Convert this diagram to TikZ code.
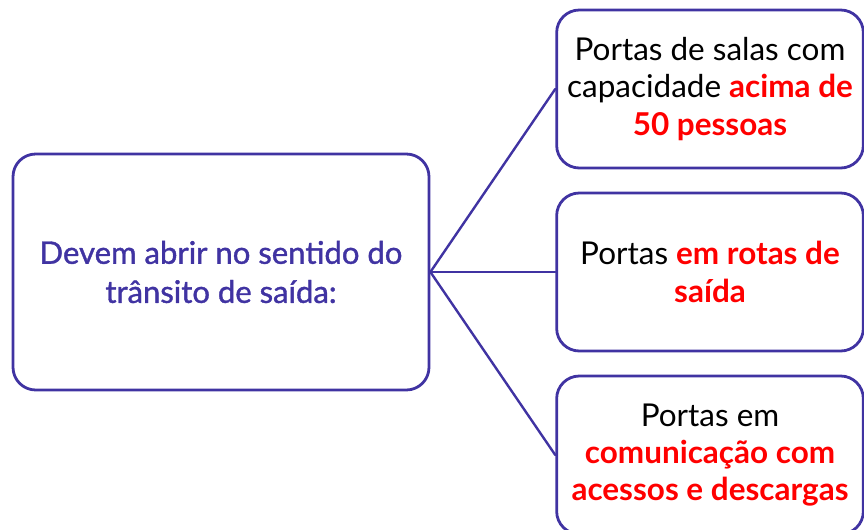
\documentclass[tikz,border=0pt]{standalone}
\usepackage{fontspec}
\setmainfont{Lato}
\newfontfamily\medio[FakeBold=1.2]{Lato}
\definecolor{roxo}{HTML}{4033A2}
\definecolor{verm}{HTML}{FF0000}
\tikzset{
	caixa/.style={draw=roxo, line width=2.1pt, rounded corners=17pt, align=center, inner sep=0pt},
	liga/.style={draw=roxo, line width=1.8pt}
}
\newcommand{\destaque}[1]{\textcolor{verm}{\bfseries #1}}
\begin{document}
\begin{tikzpicture}[x=0.75pt, y=-0.75pt, font=\fontsize{23.6}{27.9}\selectfont, line join=round, line cap=round]
	\useasboundingbox (0,0) rectangle (864,529);
	\clip (0,0) rectangle (864,529);
	\node[caixa, minimum width=312pt, minimum height=177pt, text=roxo, font=\fontsize{23.3}{29.3}\selectfont\medio] (esq) at (221,272)
		{Devem abrir no sentido do\\tr\^ansito de sa\'ida:};
	\node[caixa, minimum width=230pt, minimum height=118.5pt] (salas) at (710,89)
		{Portas de salas com\\capacidade \destaque{acima de}\\\destaque{50 pessoas}};
	\node[caixa, minimum width=230pt, minimum height=118.5pt] (rotas) at (710,272)
		{Portas \destaque{em rotas de}\\\destaque{sa\'ida}};
	\node[caixa, minimum width=230pt, minimum height=118.5pt] (descargas) at (710,455)
		{Portas em\\\destaque{comunica\c{c}\~ao com}\\\destaque{acessos e descargas}};
	\foreach \n in {salas,rotas,descargas}
		\draw[liga] (esq.east) -- (\n.west);
\end{tikzpicture}
\end{document}
